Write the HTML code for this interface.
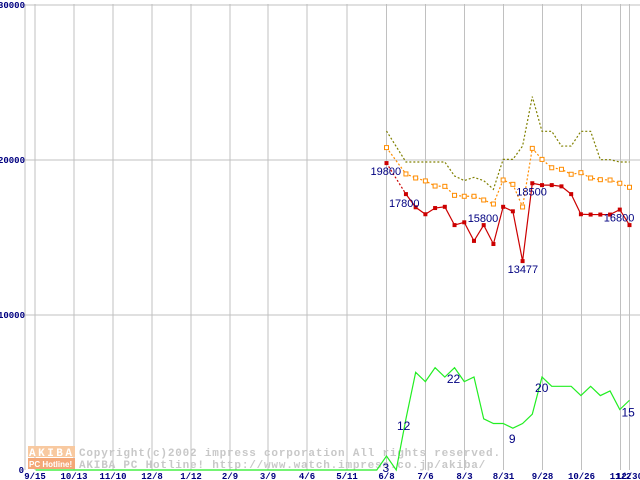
<!DOCTYPE html>
<html><head><meta charset="utf-8"><style>
html,body{margin:0;padding:0;background:#fff;}
svg{display:block;}
.mono{font-family:"Liberation Mono","DejaVu Sans Mono",monospace;}
.sans{font-family:"Liberation Sans","DejaVu Sans",sans-serif;}
</style></head><body>
<svg id="chart" width="640" height="480" viewBox="0 0 640 480" xmlns="http://www.w3.org/2000/svg">
<g id="grid"></g>
<g id="wm">
 <rect x="28" y="446" width="47" height="11" fill="#f8c9a0"/>
 <rect x="28" y="458" width="47" height="11" fill="#f4a878"/>
 <text class="mono" x="29" y="456" font-size="11" fill="#fff" font-weight="bold" letter-spacing="2.5">AKIBA</text>
 <text class="sans" x="29" y="467" font-size="8" fill="#fff" font-weight="bold">PC Hotline!</text>
 <text class="mono" x="79" y="456" font-size="11" fill="#c8c8c8" font-weight="bold" letter-spacing="0.8">Copyright(c)2002 impress corporation All rights reserved.</text>
 <text class="mono" x="79" y="468" font-size="11" fill="#c8c8c8" font-weight="bold" letter-spacing="0.8">AKIBA PC Hotline!  http://www.watch.impress.co.jp/akiba/</text>
</g>
<g id="series"></g>
<g id="labels"></g>
</svg>
<script>
const xTickLabels=["9/15","10/13","11/10","12/8","1/12","2/9","3/9","4/6","5/11","6/8","7/6","8/3","8/31","9/28","10/26","11/2","12/30"];
const xTickPos=[35,74,113,152,191,230,268,307,347,386.5,425.5,464.5,503.5,542.5,581.5,620.5,629.5];
const yTicks=[0,10000,20000,30000];
const weeks=[0,2,3,4,5,6,7,8,9,10,11,12,13,14,15,16,17,18,19,20,21,22,23,24,25];
const minPrice=[19800,17800,16950,16500,16900,16980,15800,15980,14780,15800,14580,16980,16690,13477,18500,18380,18380,18300,17800,16500,16480,16480,16480,16800,15800];
const avgPrice=[20800,19100,18840,18650,18320,18300,17720,17660,17660,17420,17160,18710,18430,16970,20750,20040,19500,19400,19080,19180,18840,18730,18710,18500,18240];
const maxPrice=[21870,19870,19870,19870,19870,19870,18970,18670,18880,18670,18110,20040,20040,20900,24090,21850,21850,20900,20900,21850,21850,20020,20020,19870,19870];
const shopWeeks=[-36.1,-1,0,1,2,3,4,5,6,7,8,9,10,11,12,13,14,15,16,17,18,19,20,21,22,23,24,25];
const shopCount=[0,0,3,0,11,21,19,22,20,22,19,20,11,10,10,9,10,12,20,18,18,18,16,18,16,17,13,15];
const priceLabels=[[0,"19800",-16,12],[1,"17800",-17,13],[9,"15800",-16,-3],[13,"13477",-15,12],[14,"18500",-16,12],[23,"16800",-16,12]];
const countLabels=[[2,"3",-4,16],[4,"12",-9,11],[8,"22",2,6],[15,"9",-4,15],[18,"20",-7,15],[27,"15",-8,16]];

const NS="http://www.w3.org/2000/svg";
const X0=386.5, WK=9.72;
const xw=w=>X0+w*WK;
const yp=v=>470-v*155/10000;
const yc=c=>470-c*4.65;
function mk(tag,parent,attrs){const e=document.createElementNS(NS,tag);for(const k in attrs)e.setAttribute(k,attrs[k]);parent.appendChild(e);return e;}
const grid=document.getElementById('grid'),ser=document.getElementById('series'),lab=document.getElementById('labels');

let l=mk('line',grid,{x1:25,y1:4,x2:25,y2:470,stroke:'#c0c0c0'});


yTicks.forEach(v=>{
 const y=yp(v);
 if(v>0){const g=mk('line',grid,{x1:25,y1:y,x2:640,y2:y,stroke:'#c0c0c0'});
 
 }
 const t=mk('text',grid,{class:'mono',x:v===0?24:25,y:y+3,'font-size':9,'font-weight':'bold',fill:'#000080','text-anchor':'end'});
 t.textContent=String(v);
 
 
});
xTickPos.forEach((x,i)=>{
 const g=mk('line',grid,{x1:x,y1:4,x2:x,y2:470,stroke:'#c0c0c0'});
 
 
 const t=mk('text',grid,{class:'mono',x:x,y:479,'font-size':9,'font-weight':'bold',fill:'#000080','text-anchor':'middle'});
 t.textContent=xTickLabels[i];
 
 
});

function poly(ws,vals,fy,color,dash,name){
 const p=mk('polyline',ser,{points:ws.map((w,i)=>xw(w)+','+fy(vals[i])).join(' '),fill:'none',stroke:color,'stroke-width':1.2});
 if(dash)p.setAttribute('stroke-dasharray',dash);
 
 
}
poly(shopWeeks,shopCount,yc,'#22ee22',null,'shop-count-line');
poly(weeks,maxPrice,yp,'#808000','2,2','max-price-line');
poly(weeks,avgPrice,yp,'#ff8c00','2,2','avg-price-line');
poly(weeks.slice(0,2),minPrice.slice(0,2),yp,'#cc0000','2,2','min-price-gap-line');
poly(weeks.slice(1),minPrice.slice(1),yp,'#cc0000',null,'min-price-line');
weeks.forEach((w,i)=>{
 const r=mk('rect',ser,{x:xw(w)-2,y:yp(avgPrice[i])-2,width:4,height:4,fill:'#fff',stroke:'#ff8c00','stroke-width':1});
 
 
 const m=mk('rect',ser,{x:xw(w)-2,y:yp(minPrice[i])-2,width:4,height:4,fill:'#cc0000'});
 
 
});
priceLabels.forEach(([i,s,dx,dy])=>{
 const t=mk('text',lab,{class:'sans',x:xw(weeks[i])+dx,y:yp(minPrice[i])+dy,'font-size':11,fill:'#000080'});
 t.textContent=s;
 
 
});
countLabels.forEach(([i,s,dx,dy])=>{
 const t=mk('text',lab,{class:'sans',x:xw(shopWeeks[i])+dx,y:yc(shopCount[i])+dy,'font-size':12,fill:'#000080'});
 t.textContent=s;
 
 
});
</script>
</body></html>
